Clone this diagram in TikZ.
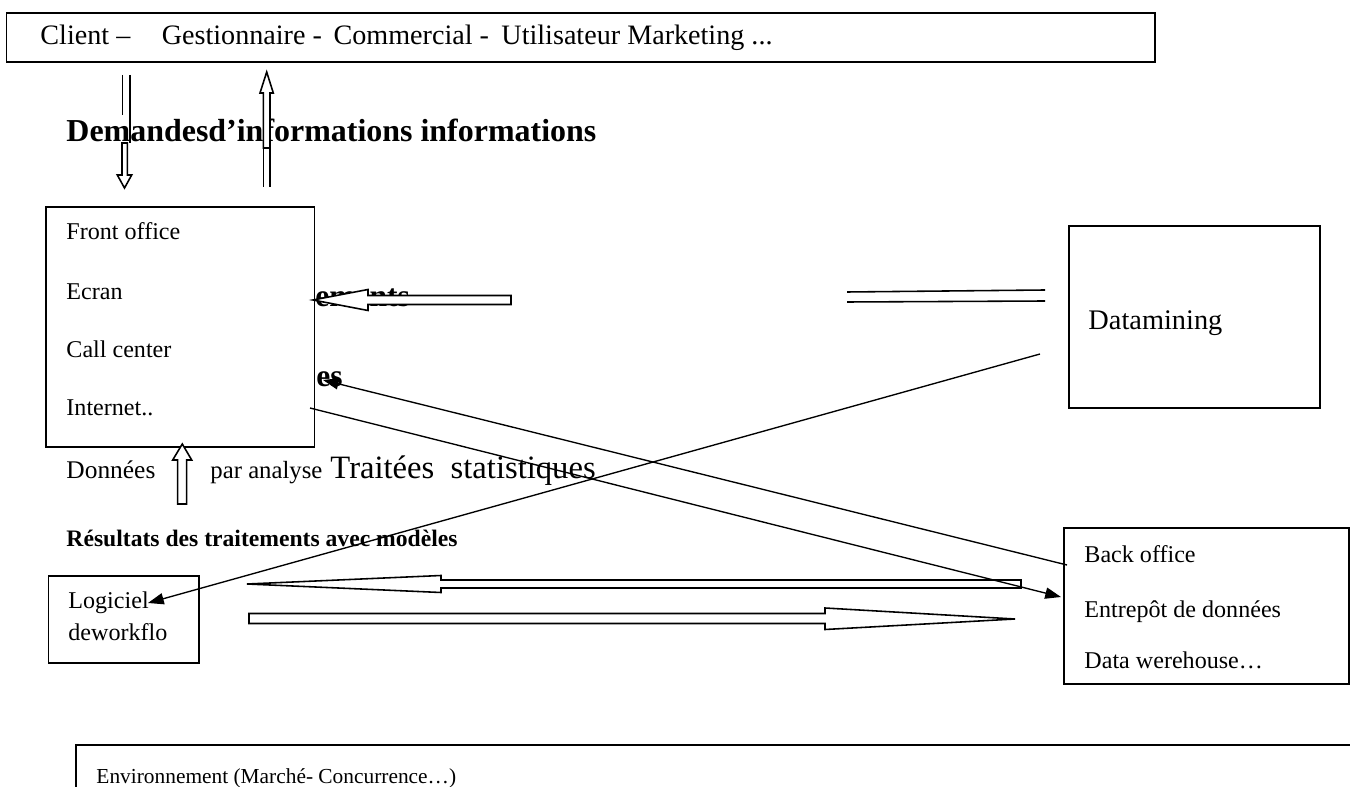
\documentclass[tikz,border=0pt]{standalone}
\usepackage{fontspec}
\setmainfont{Liberation Serif}
\usetikzlibrary{arrows.meta,fit}
\begin{document}
\begin{tikzpicture}[x=0.4444pt,y=-0.4444pt,
  box/.style={draw, line width=0.6pt, fill=white, inner sep=0pt},
  lbl/.style={anchor=base west, inner sep=0pt},
  blk/.style={draw, line width=0.7pt, fill=white, line join=miter},
  rule/.style={line width=0.7pt},
  link/.style={line width=0.6pt, -{Triangle[length=7pt,width=5pt]}},
  boxtxt/.style={lbl, font=\fontsize{10.7}{12}\selectfont},
]
\useasboundingbox (0,0) rectangle (1350,787);
\clip (0,0) rectangle (1350,787);

% actors
\node[box, fit={(6.6,13) (1155,62)}] (actors) {};
\node[lbl, font=\fontsize{12.5}{14}\selectfont] (actorstxt) at (40,45)
  {Client --\hspace{14pt}Gestionnaire -\hspace{5.2pt}Commercial -\hspace{5.5pt}Utilisateur Marketing ...};

% requests / answers
\node[lbl, font=\fontsize{14.2}{16}\selectfont\bfseries] (dem) at (66,142)
  {Demandesd’informations informations};

\draw[rule] (122.7,75) -- (122.7,115);
\draw[rule] (130,75) -- (130,143);
\draw[blk] (122,143) -- (127.3,143) -- (127.3,175) -- (131.7,175) -- (124.5,188)
  -- (117.3,175) -- (122,175) -- cycle;

\draw[blk] (266.7,72) -- (273.3,93) -- (270,93) -- (270,148) -- (263.3,148)
  -- (263.3,93) -- (260,93) -- cycle;
\draw[rule] (263.3,148) -- (263.3,187);
\draw[rule] (270,148) -- (270,187);

% hidden labels beside the front office
\node[lbl, font=\fontsize{14}{16}\selectfont\bfseries] (elab) at (315,307) {ements};
\node[lbl, font=\fontsize{14}{16}\selectfont\bfseries] (eslab) at (316,387) {es};

% front office
\node[box, fit={(46,207) (314.5,447)}] (front) {};
\node[boxtxt] at (66,240) {Front office};
\node[boxtxt] at (66,300) {Ecran};
\node[boxtxt] at (66,358) {Call center};
\node[boxtxt] at (66,416) {Internet..};

\draw[blk] (313,300) -- (368,289.5) -- (368,295.5) -- (511,295.5) -- (511,304.5)
  -- (368,304.5) -- (368,310.5) -- cycle;

% datamining
\node[box, fit={(1069,226) (1320,408)}] (dm) {};
\node[lbl, font=\fontsize{12.6}{14}\selectfont] at (1088,330) {Datamining};
\draw[rule] (847,292) -- (1045,290);
\draw[rule] (847,302) -- (1045,301);

% processed data
\node[lbl, font=\fontsize{11.3}{13}\selectfont] (donnees) at (66,478) {Données};
\draw[blk] (182.3,444) -- (191.7,460) -- (186.7,460) -- (186.7,504) -- (177.7,504)
  -- (177.7,460) -- (172.7,460) -- cycle;
\node[lbl, font=\fontsize{11}{13}\selectfont] (par) at (210,478) {par analyse};
\node[lbl, font=\fontsize{14.5}{16}\selectfont] (trait) at (330,478) {Traitées\ \ statistiques};

\node[lbl, font=\fontsize{10.5}{12}\selectfont\bfseries] (res) at (66,546)
  {Résultats des traitements avec modèles};

% workflow software
\node[box, fit={(48.7,576) (199,663)}] (wf) {};
\node[boxtxt] at (68,608) {Logiciel};
\node[boxtxt] at (68,640) {deworkflo};

% back office
\node[box, fit={(1064,528) (1349,684)}] (bo) {};
\node[boxtxt] at (1084,562) {Back office};
\node[boxtxt] at (1084,617) {Entrepôt de données};
\node[boxtxt] at (1084,668) {Data werehouse…};

% exchanges between workflow and back office
\draw[blk] (247,584) -- (441,575.5) -- (441,580) -- (1021,580) -- (1021,588)
  -- (441,588) -- (441,592.5) -- cycle;
\draw[blk] (249,613.5) -- (825,613.5) -- (825,608) -- (1015,619) -- (825,629.5)
  -- (825,623.5) -- (249,623.5) -- cycle;

% links
\coordinate (dmOut) at (1040,354);
\coordinate (wfIn) at (148,603);
\coordinate (boOut) at (1067,565);
\coordinate (esIn) at (323,380);
\coordinate (netOut) at (310,408);
\coordinate (entIn) at (1061,597);
\draw[link] (dmOut) -- (wfIn);
\draw[link] (boOut) -- (esIn);
\draw[link] (netOut) -- (entIn);

% environment
\node[box, fit={(76,745) (1360,800)}] (env) {};
\node[lbl, font=\fontsize{9.5}{11}\selectfont] at (96,783) {Environnement (Marché- Concurrence…)};
\end{tikzpicture}
\end{document}
